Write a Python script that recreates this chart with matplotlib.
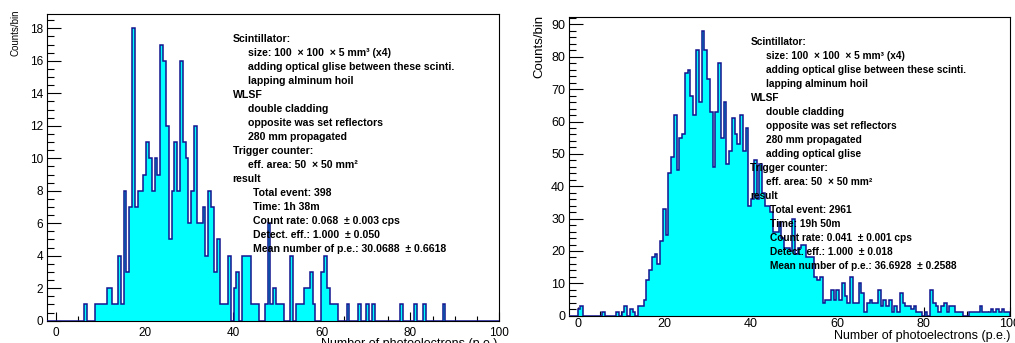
import numpy as np
import matplotlib.pyplot as plt
from matplotlib.ticker import MultipleLocator

plt.rcParams['font.family'] = ['Liberation Sans', 'DejaVu Sans']

# histogram binning (p.e.)
edges = np.linspace(-2, 100, 161)

# counts per bin, left run (398 events)
counts_a = [0]*13 + [1, 0, 0, 0, 1, 1, 1, 1, 2, 2, 1, 1, 4, 1, 8, 3, 7, 18, 7, 8, 8, 9,
            11, 10, 8, 10, 9, 17, 16, 12, 5, 8, 11, 8, 16, 11, 10, 6, 8, 12, 6, 6, 7, 4,
            8, 7, 3, 5, 1, 1, 1, 4, 0, 2, 3, 0, 4, 4, 4, 1, 1, 1, 0, 0, 1, 6, 1, 2, 1, 1,
            1, 0, 0, 4, 0, 1, 1, 1, 2, 2, 3, 1, 0, 0, 3, 4, 2, 1, 1, 1, 0, 0, 0, 1, 0, 0,
            0, 1, 0, 0, 1, 0, 1, 0, 0, 0, 0, 0, 0, 0, 0, 0, 1, 0, 0, 0, 0, 1, 0, 0, 1, 0,
            0, 0, 0, 0, 0, 1] + [0]*19

# counts per bin, right run (2961 events)
counts_b = ([0, 0, 0, 2, 3] + [0]*7 + [1, 0, 0, 0, 0] +
            [1, 0, 1, 3, 0, 2, 1, 0, 3, 3, 5, 11, 14, 18, 19, 16, 23, 33, 25, 44, 49, 62,
             45, 55, 56, 75, 76, 68, 62, 82, 66, 88, 82, 73, 63, 46, 63, 78, 55, 66, 47,
             51, 61, 56, 53, 62, 51, 58, 34, 36, 48, 36, 47, 38] +
            [34, 34, 32, 26, 26, 29, 24, 21, 21, 20, 30, 19, 21, 22, 22, 18, 18, 18, 12,
             11, 12] +
            [4, 5, 5, 8, 5, 8, 5, 10, 6, 4, 12, 4, 4, 10, 7, 1, 4, 5, 4, 4, 8, 3, 5, 3, 5,
             1, 3, 1, 7, 4, 3, 3, 2, 3, 1, 1, 0, 1] +
            [0, 8, 4, 3, 1, 3, 4, 1, 3, 3, 1, 1, 1, 0, 0, 1, 1, 1, 1, 3, 1, 1, 1, 2, 1, 2,
             1, 2, 1, 1])

notes_a = [
    (0, "Scintillator:"),
    (1, "size: 100  \u00d7 100  \u00d7 5 mm\u00b3 (x4)"),
    (1, "adding optical glise between these scinti."),
    (1, "lapping alminum hoil"),
    (0, "WLSF"),
    (1, "double cladding"),
    (1, "opposite was set reflectors"),
    (1, "280 mm propagated"),
    (0, "Trigger counter:"),
    (1, "eff. area: 50  \u00d7 50 mm\u00b2"),
    (0, "result"),
    (2, "Total event: 398"),
    (2, "Time: 1h 38m"),
    (2, "Count rate: 0.068  \u00b1 0.003 cps"),
    (2, "Detect. eff.: 1.000  \u00b1 0.050"),
    (2, "Mean number of p.e.: 30.0688  \u00b1 0.6618"),
]
notes_b = notes_a[:8] + [(1, "adding optical glise")] + notes_a[8:11] + [
    (2, "Total event: 2961"),
    (2, "Time: 19h 50m"),
    (2, "Count rate: 0.041  \u00b1 0.001 cps"),
    (2, "Detect. eff.: 1.000  \u00b1 0.018"),
    (2, "Mean number of p.e.: 36.6928  \u00b1 0.2588"),
]

W, H = 1015, 343
fig = plt.figure(figsize=(W/100, H/100), dpi=100)


def px(x0, y0, x1, y1):
    return [x0/W, 1 - y1/H, (x1-x0)/W, (y1-y0)/H]


def panel(rect, counts, ymaj, ymin, fs, xpad):
    ax = fig.add_axes(rect)
    counts = np.array(counts, dtype=float)
    ax.stairs(counts, edges, fill=True, color='#00ffff', zorder=2)
    ax.stairs(counts, edges, color='#14148f', lw=1.1, zorder=3)
    ax.set_xlim(edges[0], edges[-1])
    ax.set_ylim(0, counts.max()*1.05)
    ax.set_axisbelow(True)
    ax.xaxis.set_major_locator(MultipleLocator(20))
    ax.xaxis.set_minor_locator(MultipleLocator(5))
    ax.yaxis.set_major_locator(MultipleLocator(ymaj))
    ax.yaxis.set_minor_locator(MultipleLocator(ymin))
    ax.tick_params(which='both', direction='in', top=False, right=False,
                   labelsize=fs, width=0.8, color='k')
    ax.tick_params(axis='y', which='major', length=10, pad=3)
    ax.tick_params(axis='y', which='minor', length=5)
    ax.tick_params(axis='x', which='major', length=6.5, pad=xpad)
    ax.tick_params(axis='x', which='minor', length=3.5)
    for s in ax.spines.values():
        s.set_linewidth(0.8)
    return ax


ax1 = panel(px(47.3, 13.7, 499, 320.7), counts_a, 2, 0.5, 8.5, 4.5)
ax2 = panel(px(569.3, 16.7, 1010, 315.7), counts_b, 10, 2, 9, 1.5)

fig.text(16/W, 1 - 10/H, "Counts/bin", rotation=90, ha='center', va='top', fontsize=7)
fig.text(539/W, 1 - 15/H, "Counts/bin", rotation=90, ha='center', va='top', fontsize=9.5)
fig.text(497/W, 1 - 344/H, "Number of photoelectrons (p.e.)", ha='right', va='center', fontsize=9)
fig.text(1010/W, 1 - 336.5/H, "Number of photoelectrons (p.e.)", ha='right', va='center', fontsize=9)

indent = [0, 15.5, 20]
for notes, x0, y0, dy, fs in [(notes_a, 232.7, 39.3, 13.95, 7.6),
                              (notes_b, 750.5, 42.3, 14.0, 7.3)]:
    for i, (lvl, s) in enumerate(notes):
        fig.text((x0 + indent[lvl])/W, 1 - (y0 + i*dy)/H, s, ha='left', va='center',
                 fontsize=fs, fontweight='bold', zorder=5)

fig.savefig('out.png', dpi=100)
